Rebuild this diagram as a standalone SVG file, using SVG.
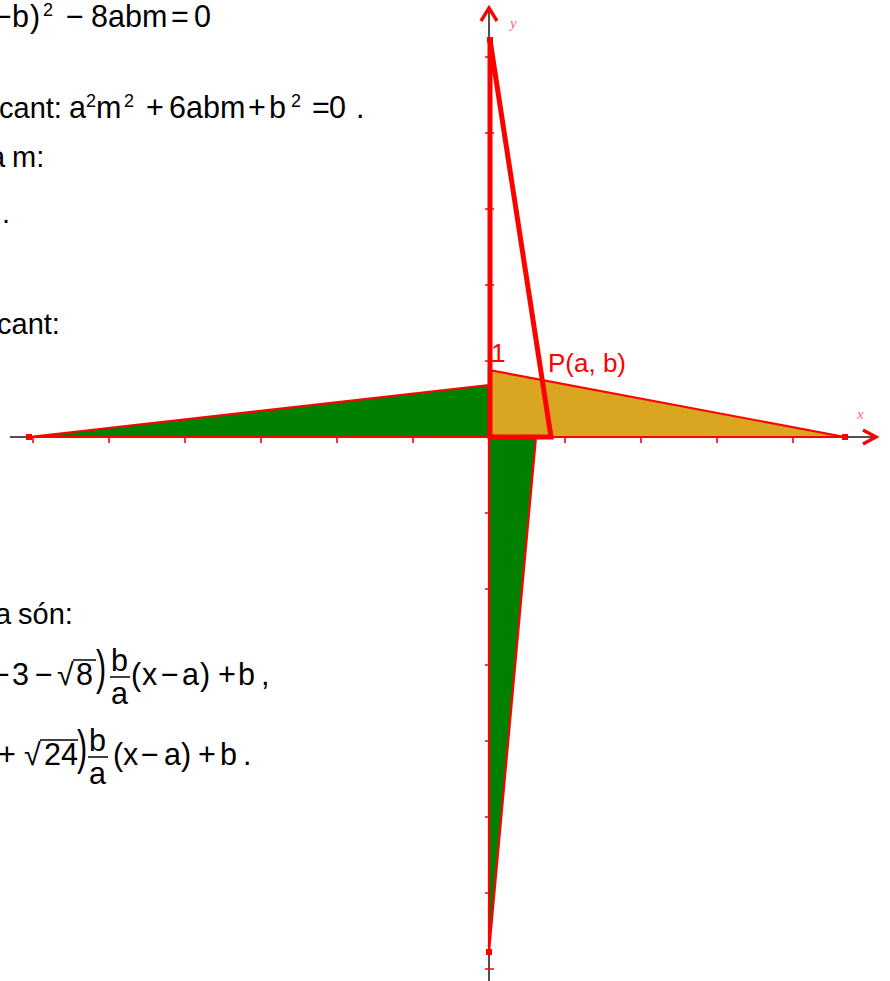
<svg xmlns="http://www.w3.org/2000/svg" width="890" height="981" viewBox="0 0 890 981">
<style>
.t{font-family:"Liberation Sans",Arial,sans-serif;font-size:29px;fill:#000}
.m{font-family:"Liberation Sans",Arial,sans-serif;font-size:30.5px;fill:#000}
.s{font-family:"Liberation Sans",Arial,sans-serif;font-size:18px;fill:#000}
.lbl{font-family:"Liberation Sans",Arial,sans-serif;font-size:26px;fill:#f00}
.ax{font-family:"Liberation Serif",serif;font-style:italic;font-size:15px;fill:#f00;opacity:0.6}
.axis{stroke:#505050;stroke-width:2;fill:none}
.tick{stroke:#f00;stroke-width:1.6}
.thin{stroke:#f00;stroke-width:2.2;stroke-linejoin:round}
.rule{stroke:#000;stroke-width:1.5}
.pt{fill:#f00}
</style>
<rect width="890" height="981" fill="#fff"/>
<g id="text">
<text class="m" y="27"><tspan x="-6">−</tspan><tspan x="12">b</tspan><tspan x="30">)</tspan><tspan x="66">−</tspan><tspan x="91">8abm</tspan><tspan x="171">=</tspan><tspan x="194">0</tspan></text>
<text class="s" x="43" y="16">2</text>
<text class="t" x="-1" y="118">cant:</text>
<text class="m" y="118"><tspan x="69">a</tspan><tspan x="96">m</tspan><tspan x="146">+</tspan><tspan x="169">6abm</tspan><tspan x="248">+</tspan><tspan x="269">b</tspan><tspan x="312">=</tspan><tspan x="329">0</tspan><tspan x="356">.</tspan></text>
<text class="s" y="107"><tspan x="86">2</tspan><tspan x="124">2</tspan><tspan x="291">2</tspan></text>
<text class="t" y="167"><tspan x="-11">a</tspan><tspan x="12">m:</tspan></text>
<text class="t" x="2" y="223">.</text>
<text class="t" x="-3" y="334">cant:</text>
<text class="t" y="624"><tspan x="-5">a</tspan><tspan x="18">són:</tspan></text>
<text class="m" y="685"><tspan x="-8">−</tspan><tspan x="12">3</tspan><tspan x="35">−</tspan><tspan x="57">√</tspan><tspan x="76">8</tspan><tspan x="131">(</tspan><tspan x="142">x</tspan><tspan x="161">−</tspan><tspan x="182">a</tspan><tspan x="200">)</tspan><tspan x="218">+</tspan><tspan x="238">b</tspan><tspan x="261">,</tspan></text>
<text class="m" transform="translate(96,672) scale(1,1.6)" y="7.5">)</text>
<text class="m" x="111" y="671">b</text>
<line class="rule" x1="110" y1="677" x2="130" y2="677"/>
<text class="m" x="111" y="704">a</text>
<line class="rule" x1="73" y1="660" x2="96" y2="660"/>
<text class="m" y="765"><tspan x="-2">+</tspan><tspan x="24">√</tspan><tspan x="44">24</tspan><tspan x="113">(</tspan><tspan x="123">x</tspan><tspan x="141">−</tspan><tspan x="164">a</tspan><tspan x="181">)</tspan><tspan x="198">+</tspan><tspan x="220">b</tspan><tspan x="243">.</tspan></text>
<text class="m" transform="translate(77,752) scale(1,1.6)" y="7.5">)</text>
<text class="m" x="89" y="751">b</text>
<line class="rule" x1="88" y1="757" x2="108" y2="757"/>
<text class="m" x="89" y="784">a</text>
<line class="rule" x1="40" y1="740" x2="78" y2="740"/>
</g>
<g id="axes">
<line class="axis" x1="10" y1="437" x2="876" y2="437"/>
<line class="axis" x1="489" y1="8" x2="489" y2="981"/>
<g id="ticks">
<path class="tick" d="M33,437v6M109,437v6M185,437v6M261,437v6M337,437v6M413,437v6M565,437v6M641,437v6M717,437v6M793,437v6"/>
<path class="tick" d="M485,57h9M485,133h9M485,209h9M485,285h9M485,361h9M485,513h9M485,589h9M485,665h9M485,741h9M485,817h9M485,893h9M485,969h9"/>
</g>
<polyline points="481,21 489,8 497,21" fill="none" stroke="#f00" stroke-width="3.4"/>
<polyline points="863,430 876,437 863,444" fill="none" stroke="#f00" stroke-width="3.4"/>
<text class="ax" x="510" y="28">y</text>
<text class="ax" x="857" y="419">x</text>
</g>
<g id="connectors">
<polygon id="green-left" class="thin" points="29,437 489,385 489,437" fill="#008000"/>
<polygon id="green-bottom" class="thin" points="489,437 536,437 489,952" fill="#008000"/>
<polygon id="orange" class="thin" points="489,370 845,437 489,437" fill="#daa520"/>
<polygon id="thick" points="490,40 490,437 551,437" fill="none" stroke="#f00" stroke-width="5"/>
</g>
<g id="points">
<rect class="pt" x="26" y="434" width="6" height="6"/>
<rect class="pt" x="842" y="434" width="6" height="6"/>
<rect class="pt" x="486" y="949" width="6" height="6"/>
<rect class="pt" x="487" y="37" width="6" height="6"/>
</g>
<g id="labels">
<text class="lbl" x="491" y="362">1</text>
<text class="lbl" x="548" y="372">P(a, b)</text>
</g>
</svg>
